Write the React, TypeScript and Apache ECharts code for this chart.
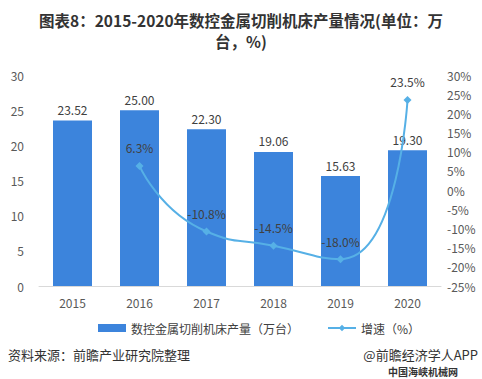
import React, { useEffect, useRef } from "react";
import * as echarts from "echarts";

const categories = ["2015", "2016", "2017", "2018", "2019", "2020"];
const outputValues = [23.52, 25.0, 22.3, 19.06, 15.63, 19.3];
const growthValues: (number | string)[] = ["-", 6.3, -10.8, -14.5, -18.0, 23.5];
const barName = "数控金属切削机床产量（万台）";
const lineName = "增速（%）";
const titleLine1 = "图表8：2015-2020年数控金属切削机床产量情况(单位：万";
const titleLine2 = "台，%)";
const sourceText = "资料来源：前瞻产业研究院整理";
const brandText = "@前瞻经济学人APP";
const markText = "中国海峡机械网";

const FONT = "'Noto Sans CJK SC', 'Noto Sans', sans-serif";

export default function App() {
  const ref = useRef<HTMLDivElement>(null);
  useEffect(() => {
    document.body.style.margin = "0";
    const chart = echarts.init(ref.current!, undefined, { renderer: "svg" });
    const titleStyle = {
      fontSize: 15.5,
      fontWeight: "bold",
      fill: "#333333",
      align: "center",
      verticalAlign: "middle",
      fontFamily: FONT,
    };
    chart.setOption({
      animation: false,
      backgroundColor: "#ffffff",
      textStyle: { fontFamily: FONT },
      grid: { left: 39, right: 41, top: 75, bottom: 93, containLabel: false },
      legend: {
        left: 93,
        top: 317,
        itemGap: 28,
        itemWidth: 28,
        itemHeight: 8,
        textStyle: { fontSize: 12, color: "#404040", fontFamily: FONT },
        data: [{ name: barName, icon: "rect" }, { name: lineName }],
      },
      xAxis: {
        type: "category",
        data: categories,
        axisLine: { lineStyle: { color: "#d9d9d9" } },
        axisTick: { show: false },
        axisLabel: { color: "#595959", fontSize: 12, margin: 10 },
      },
      yAxis: [
        {
          type: "value",
          min: 0,
          max: 30,
          interval: 5,
          splitLine: { show: false },
          axisLine: { show: false },
          axisTick: { show: false },
          axisLabel: { color: "#595959", fontSize: 12, margin: 15 },
        },
        {
          type: "value",
          min: -25,
          max: 30,
          interval: 5,
          splitLine: { show: false },
          axisLine: { show: false },
          axisTick: { show: false },
          axisLabel: { color: "#595959", fontSize: 12, formatter: "{value}%", margin: 6 },
        },
      ],
      series: [
        {
          name: barName,
          type: "bar",
          data: outputValues,
          barWidth: 39,
          itemStyle: { color: "#3c84dc" },
          label: {
            show: true,
            position: "top",
            distance: 5,
            color: "#404040",
            fontSize: 12,
            formatter: (p: any) => Number(p.value).toFixed(2),
          },
        },
        {
          name: lineName,
          type: "line",
          yAxisIndex: 1,
          data: growthValues,
          smooth: 0.6,
          symbol: "diamond",
          symbolSize: 8,
          lineStyle: { color: "#56b0e6", width: 2 },
          itemStyle: { color: "#56b0e6" },
          label: {
            show: true,
            position: "top",
            distance: 8,
            color: "#404040",
            fontSize: 12,
            formatter: (p: any) => Number(p.value).toFixed(1) + "%",
          },
        },
      ],
      graphic: [
        { type: "text", x: 241, y: 20, style: { ...titleStyle, text: titleLine1 } },
        { type: "text", x: 241, y: 41, style: { ...titleStyle, text: titleLine2 } },
        {
          type: "text",
          left: 8,
          top: 348,
          style: { text: sourceText, fontSize: 13, fill: "#333333", fontFamily: FONT },
        },
        {
          type: "text",
          right: 4,
          top: 348,
          style: { text: brandText, fontSize: 13, fill: "#333333", fontFamily: FONT },
        },
        {
          type: "text",
          left: 388,
          top: 366,
          style: { text: markText, fontSize: 10, fontWeight: "bold", fill: "#333333", fontFamily: FONT },
        },
      ],
    });
    return () => chart.dispose();
  }, []);
  return <div ref={ref} style={{ width: 482, height: 379 }} />;
}
